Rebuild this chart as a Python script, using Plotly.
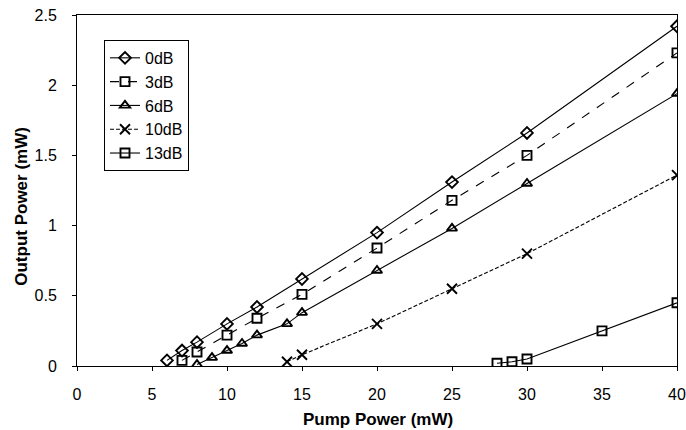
import plotly.graph_objects as go

x_0db = [6, 7, 8, 10, 12, 15, 20, 25, 30, 40]
y_0db = [0.04, 0.11, 0.17, 0.30, 0.42, 0.62, 0.95, 1.31, 1.66, 2.42]

x_3db = [7, 8, 10, 12, 15, 20, 25, 30, 40]
y_3db = [0.04, 0.10, 0.22, 0.34, 0.51, 0.84, 1.18, 1.50, 2.23]

x_6db = [8, 9, 10, 11, 12, 14, 15, 20, 25, 30, 40]
y_6db = [0.01, 0.06, 0.11, 0.16, 0.22, 0.30, 0.38, 0.68, 0.98, 1.30, 1.94]

x_10db = [14, 15, 20, 25, 30, 40]
y_10db = [0.03, 0.08, 0.30, 0.55, 0.80, 1.36]

x_13db = [28, 29, 30, 35, 40]
y_13db = [0.02, 0.03, 0.05, 0.25, 0.45]

x_ticks = [0, 5, 10, 15, 20, 25, 30, 35, 40]
y_ticks = [0, 0.5, 1, 1.5, 2, 2.5]
y_ticktext = ["0", "0.5", "1", "1.5", "2", "2.5"]

series = [
    ("0dB", x_0db, y_0db, "diamond-open", "solid", 9),
    ("3dB", x_3db, y_3db, "square-open", "dash", 9),
    ("6dB", x_6db, y_6db, "triangle-up-open", "solid", 9),
    ("10dB", x_10db, y_10db, "x-thin-open", "4px,2px", 10),
    ("13dB", x_13db, y_13db, "square-open", "solid", 9),
]

fig = go.Figure()
for name, xs, ys, sym, dash, size in series:
    fig.add_trace(go.Scatter(
        x=xs, y=ys, name=name, mode="lines+markers",
        line=dict(color="black", width=1.1, dash=dash),
        marker=dict(symbol=sym, size=size, color="black",
                    line=dict(color="black", width=1.9)),
    ))

fig.update_layout(
    width=686, height=430,
    margin=dict(l=77, r=9, t=15, b=64, autoexpand=False),
    paper_bgcolor="white", plot_bgcolor="white",
    font=dict(family="Liberation Sans, Arial", size=16, color="black"),
    showlegend=True,
    legend=dict(x=0.045, y=0.929, xanchor="left", yanchor="top",
                bordercolor="black", borderwidth=1, bgcolor="white",
                font=dict(size=16), tracegroupgap=0),
    xaxis=dict(range=[0, 40], tickvals=x_ticks,
               showgrid=False, zeroline=False, showline=True, linecolor="black",
               linewidth=1, mirror=True, ticks="outside", ticklen=4, tickcolor="black",
               ticklabelstandoff=10, automargin=False, ticklabeloverflow="allow"),
    yaxis=dict(range=[0, 2.5], tickvals=y_ticks, ticktext=y_ticktext,
               showgrid=False, zeroline=False, showline=True, linecolor="black",
               linewidth=1, mirror=True, ticks="outside", ticklen=4, tickcolor="black",
               ticklabelstandoff=12, automargin=False, ticklabeloverflow="allow"),
    annotations=[
        dict(text="<b>Pump Power (mW)</b>", xref="paper", yref="paper",
             x=0.502, y=-0.152, xanchor="center", yanchor="middle",
             showarrow=False, font=dict(size=17)),
        dict(text="<b>Output Power (mW)</b>", xref="paper", yref="paper",
             x=-0.092, y=0.456, xanchor="center", yanchor="middle",
             textangle=-90, showarrow=False, font=dict(size=17)),
    ],
)

fig.write_html(
    "out.html",
    config={"displayModeBar": False},
    post_script="document.body.style.margin='0px';document.body.style.overflow='hidden';",
)
